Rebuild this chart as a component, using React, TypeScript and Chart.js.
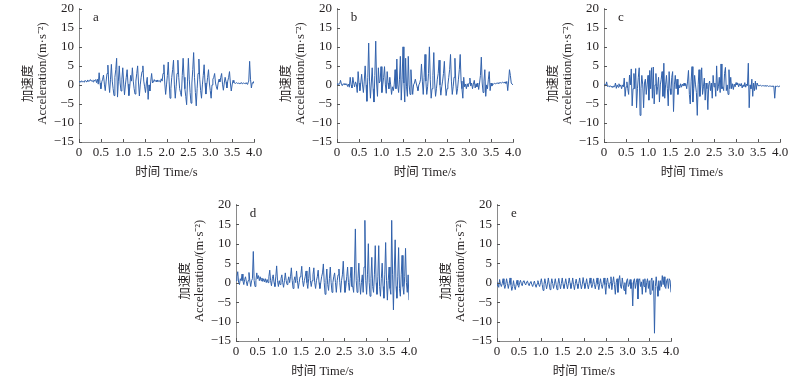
import React, { useEffect, useRef } from 'react';
import { Chart, registerables } from 'chart.js';

Chart.register(...registerables);

// ---- data ----
const DT = 0.02; // sampling step, s
const X_TICKS = [0, 0.5, 1, 1.5, 2, 2.5, 3, 3.5, 4];
const X_TICK_LABELS = ['0', '0.5', '1.0', '1.5', '2.0', '2.5', '3.0', '3.5', '4.0'];
const Y_TICKS = [-15, -10, -5, 0, 5, 10, 15, 20];
const Y_TICK_LABELS = ['−15', '−10', '−5', '0', '5', '10', '15', '20'];
const Y_TITLE_CN = '加速度';
const Y_TITLE_EN = 'Acceleration/(m·s⁻²)';
const X_TITLE = '时间 Time/s';
const PANEL_LETTERS = ['a', 'b', 'c', 'd', 'e'];

const ACC_A = [
  0.8, 1.0, 0.7, 1.1, 0.8,
  0.9, 0.7, 1.2, 0.9, 0.8,
  1.3, 0.9, 1.0, 1.4, 1.0,
  1.2, 0.8, 1.3, 1.1, 1.4,
  0.6, 1.5, 0.2, 3.2, 0.5,
  -1.0, 0.8, 1.5, 2.6, 0.2,
  -1.5, 1.0, 3.0, 5.2, 0.5,
  -2.0, 1.5, 5.4, 1.0, -1.0,
  -2.8, 2.0, 4.0, 7.0, -3.2,
  1.0, 5.0, 0.5, -1.6, 1.5,
  4.5, 0.5, -2.6, 0.0, 2.0,
  4.0, 0.2, -2.8, -0.5, 2.5,
  1.0, 4.5, 1.0, -1.0, -2.4,
  1.0, 3.0, 5.0, 0.5, -2.9,
  0.0, 2.0, 3.5, 5.0, 1.0,
  -0.5, -2.0, 0.5, 2.0, -3.8,
  0.0, -1.6, 1.0, 3.0, 0.5,
  0.8, 1.4, 0.9, 1.2, 0.8,
  1.3, 0.9, 1.1, 0.7, 1.6,
  1.0, 3.0, 5.3, 0.5, -2.5,
  0.0, 2.5, 6.0, 1.0, -3.5,
  -1.0, 2.0, 4.0, 6.5, 0.0,
  -3.5, -0.5, 3.0, 6.5, 2.0,
  -1.0, -2.0, -3.0, 2.5, 7.0,
  2.0, -1.0, -3.0, -5.2, 1.0,
  7.0, 1.5, -2.0, -4.8, 0.5,
  4.0, 8.5, 2.0, -2.0, -5.5,
  -1.0, 3.0, 6.8, 1.5, -1.5,
  -3.5, 0.0, 2.5, 5.3, 0.5,
  -2.4, 0.0, 2.0, 4.0, 0.5,
  -1.5, -3.5, 0.0, 1.5, 2.0,
  3.0, 0.5, -0.5, -1.2, 0.5,
  1.5, 0.8, 2.0, 3.0, 0.2,
  -1.4, 0.5, 2.0, 0.8, -0.8,
  1.0, 2.0, 3.5, 0.5, -1.6,
  0.0, 1.2, 0.6, 0.5, 0.4,
  0.6, 0.4, 0.5, 0.3, 0.5,
  0.4, 0.6, 0.3, 0.5, 0.4,
  0.3, 0.6, 0.2, 0.5, 1.0,
  6.2, 1.5, -0.8, 0.6, 0.4,
  1.0,
];

const ACC_B = [
  0.0, 0.4, 0.1, 0.3, 1.2,
  0.2, -0.2, 0.3, 0.1, 0.4,
  0.0, 0.3, -0.4, 0.2, -0.6,
  2.0, 0.0, -0.8, 2.0, 0.5,
  -0.5, 0.8, 0.2, -2.0, 3.5,
  0.5, -1.5, 0.5, 2.8, 0.0,
  -2.0, 1.0, 5.0, 0.0, -4.3,
  2.0, 11.0, 1.0, -3.5, 0.5,
  4.5, -1.0, -4.5, 2.5, 11.5,
  0.5, -3.0, 4.5, 0.5, 1.0,
  4.8, -2.0, 0.0, 2.0, 4.8,
  0.0, -2.2, 3.5, 0.5, -1.0,
  2.0, 0.0, -2.5, -0.5, -1.5,
  0.0, 4.0, -1.0, 6.8, 0.0,
  -2.0, 1.5, 7.5, -4.0, 1.5,
  10.0, 0.5, -4.5, 7.0, -0.5,
  -3.0, 7.5, 0.0, -2.5, 4.0,
  0.0, -2.5, 0.0, 0.5, 1.5,
  0.5, -0.5, -1.5, 0.0, 0.5,
  1.5, 5.5, 1.0, -2.5, 2.0,
  8.0, 1.0, -2.5, -0.5, 3.0,
  10.0, 1.5, -3.5, -1.0, 2.5,
  8.5, 0.5, -3.0, -1.0, 1.5,
  3.0, 6.5, 0.0, -2.7, -0.5,
  1.0, 3.0, 6.2, 0.5, -2.8,
  -1.0, 0.0, 2.0, 4.0, 8.0,
  1.0, -2.5, -0.5, 2.0, 7.0,
  0.5, -2.5, -1.0, 1.5, 4.0,
  8.0, 1.0, -1.0, -3.5, 2.0,
  -0.5, 0.2, -1.0, 0.3, -0.5,
  0.5, 1.8, -0.3, 0.5, -1.0,
  0.2, 1.2, -0.8, 0.3, -0.5,
  0.5, -1.2, 0.5, 2.5, 7.3,
  0.5, -2.0, 1.0, 4.0, -3.0,
  0.0, -1.0, 1.5, 3.5, -1.5,
  0.5, -0.3, 0.3, 0.2, 0.4,
  0.3, 0.4, 0.5, 0.4, 0.6,
  0.5, 0.6, 0.5, 0.7, 0.6,
  0.5, 0.8, 0.4, 0.9, -1.5,
  1.0, 4.0, 2.5, 0.5, 0.2,
  0.0,
];

const ACC_C = [
  -0.2, 0.2, -0.3, 0.8, -0.4,
  -0.3, -0.5, -0.2, -0.5, -0.3,
  -0.7, -0.3, -0.5, 0.5, -0.9,
  0.0, -0.6, 0.3, -0.4, 0.0,
  -1.0, 0.0, -0.5, 1.8, -3.0,
  -0.5, 0.8, -1.0, -2.5, 2.6,
  0.0, 4.2, -5.5, -1.0, 3.0,
  -1.0, 4.3, -6.0, -1.0, 2.0,
  4.5, -8.0, -1.0, 2.5, 0.0,
  -6.0, 0.5, 1.5, -2.5, 0.0,
  2.5, -4.0, 3.8, -1.0, 4.5,
  -3.5, 4.7, -5.0, 0.0, 3.0,
  -2.5, -0.5, 2.0, -4.5, 0.0,
  1.5, 3.5, -3.0, 5.7, -3.5,
  0.0, 2.5, -1.0, -5.5, 3.5,
  -1.0, -2.5, 2.0, 3.5, -7.0,
  0.0, 2.5, -1.0, 1.5, -2.5,
  0.0, -0.8, 0.3, -0.6, 0.2,
  -0.3, 0.5, -0.2, 0.2, -1.0,
  1.0, 3.8, -2.5, -5.0, 1.0,
  4.8, -4.5, -1.0, 2.5, 0.0,
  -2.0, -8.0, 0.0, 4.0, -3.0,
  0.0, 4.5, -2.5, -0.5, 1.8,
  -4.0, 0.5, -1.0, -6.5, 0.0,
  1.0, -1.5, 0.5, -3.5, 2.5,
  -0.5, 0.5, -3.0, 5.0, -1.5,
  -0.5, 2.0, -2.0, 5.5, -1.0,
  -0.5, -1.5, 3.0, 4.6, -1.5,
  0.0, -2.5, 4.0, -1.0, 2.0,
  -1.0, 0.3, -1.2, 0.2, -0.5,
  0.6, 0.0, 0.5, -0.5, 0.3,
  -0.3, 0.4, -0.8, 0.0, -0.4,
  0.6, -0.6, 0.2, -0.2, 5.7,
  -6.0, 0.0, -1.0, 1.5, -3.0,
  0.5, -1.5, 1.0, -1.2, 0.5,
  -0.2, -0.1, -0.2, -0.1, -0.3,
  -0.2, -0.2, -0.3, -0.2, -0.3,
  -0.3, -0.2, -0.4, -0.3, -0.3,
  -0.4, -0.3, -0.4, -0.3, -3.5,
  -0.3, -0.4, -0.3, -0.5, -0.3,
  -0.4,
];

const ACC_D = [
  0.5, 1.5, 2.8, 0.0, -0.5,
  1.0, 0.5, 2.2, 0.5, -0.5,
  0.8, 1.5, 0.2, -0.8, 0.5,
  2.6, 0.5, -1.0, 0.5, 1.0,
  8.0, 0.5, -1.0, 0.5, 2.5,
  1.0, 1.8, 0.5, 1.5, 0.5,
  1.2, 0.3, 1.0, 0.2, 1.0,
  0.0, 0.8, 0.0, 1.5, 3.2,
  0.5, -0.8, 1.0, 2.0, 0.0,
  -1.0, 1.5, 4.3, 0.5, -1.0,
  0.5, -0.5, 1.0, 2.0, 0.0,
  -1.2, 0.5, 2.5, 0.5, -0.5,
  0.5, 1.5, 0.0, 1.5, 3.8,
  0.5, -1.5, 0.5, 1.5, 0.0,
  3.0, 0.5, -1.5, 0.0, 1.5,
  2.0, 4.2, 0.5, -1.0, 0.5,
  1.5, 3.0, 0.0, -1.5, 1.0,
  4.0, 0.5, -1.0, 0.5, 2.0,
  3.8, 0.0, -1.5, 0.5, 1.5,
  3.2, 0.0, -1.5, 0.0, 1.5,
  2.5, 4.8, 0.0, -3.0, 0.5,
  3.5, -0.5, -2.0, 1.0, 4.0,
  0.0, -2.5, 0.0, 1.5, 2.5,
  0.0, -2.5, 0.5, 2.0, 3.5,
  0.0, -2.5, 0.5, 2.0, 5.5,
  0.5, -2.5, -1.0, 1.5, 4.0,
  0.0, -2.0, 1.0, 4.0, -1.0,
  -1.0, -2.5, 3.0, 13.8, 0.5,
  -2.5, 1.0, 5.0, 0.0, -3.0,
  0.0, 2.0, -2.5, 4.0, 16.0,
  0.5, -3.0, 2.0, 10.0, 0.0,
  -3.5, 1.0, 6.5, -1.0, -2.5,
  2.0, 9.5, 0.0, -3.0, 1.5,
  9.5, -1.0, -3.5, 1.0, 5.0,
  -1.0, -4.0, 2.0, 10.3, 0.5,
  -4.5, 0.5, 4.0, -1.5, -3.0,
  16.0, 2.0, -7.0, 3.0, 11.0,
  -1.0, -4.0, 1.5, 9.0, -1.5,
  -3.5, 2.0, 7.0, -1.0, -3.0,
  1.5, 8.8, 0.0, -2.5, 2.0,
  -4.5,
];

const ACC_E = [
  0.0, -0.8, -1.2, 0.8, -0.3,
  -1.0, -0.2, 1.0, -0.5, -1.5,
  -0.5, 1.0, -0.2, -1.5, -0.3,
  1.2, -0.5, -2.0, -1.0, 0.5,
  -1.0, -1.8, -0.5, 0.6, -0.6,
  -1.2, 0.0, 0.6, -0.3, -0.8,
  0.3, 0.5, -0.2, -0.6, 0.2,
  0.4, -0.3, -0.8, 0.0, 0.3,
  -0.5, -1.0, -0.2, 0.4, -0.6,
  -1.2, -0.3, 0.5, -0.5, -1.0,
  0.0, 1.0, -0.5, -2.0, -0.5,
  1.0, -0.3, -1.6, -0.4, 1.2,
  -0.3, -1.8, -0.5, 1.0, -0.2,
  -1.5, -0.3, 1.0, -0.5, -1.8,
  -0.4, 1.1, -0.3, -1.6, -0.2,
  1.2, -0.5, -1.5, -0.3, 1.0,
  -0.4, -1.6, -0.3, 1.2, -0.2,
  -1.5, -0.4, 1.2, -0.5, -1.8,
  -0.3, 0.9, -0.4, -1.5, -0.2,
  1.2, -0.3, -1.6, -0.5, 1.3,
  -0.2, -1.5, -0.4, 1.0, -0.5,
  -1.6, -0.3, 1.2, -0.2, -1.3,
  -0.4, 1.0, -0.5, -1.6, -0.2,
  1.2, -0.4, -1.8, -0.3, 1.0,
  -0.5, -1.5, -0.2, 1.2, -0.5,
  -3.0, 0.0, 1.2, -0.5, -1.5,
  0.0, 1.5, -1.8, 0.0, 1.5,
  -0.5, -3.0, 0.0, 1.0, -2.5,
  0.5, 1.8, -1.0, -1.5, 1.2,
  -0.5, -2.0, 0.0, -3.0, 0.5,
  1.0, -1.0, -0.5, 0.8, -1.5,
  0.0, -6.0, 0.5, 1.0, -1.5,
  0.0, 1.0, -4.2, 0.5, 1.0,
  -1.0, 0.2, -3.0, 0.8, -1.0,
  1.0, -2.5, 0.0, 1.0, -1.5,
  0.5, -3.0, 0.5, 1.2, -2.0,
  0.5, -13.0, -1.0, 1.5, -1.0,
  -3.5, 0.5, -2.0, 0.5, -1.0,
  1.8, -0.5, 1.5, -1.0, -1.5,
  0.5, 1.0, -1.5, 1.0, 0.5,
  -2.5,
];

const SERIES = [ACC_A, ACC_B, ACC_C, ACC_D, ACC_E];

// ---- layout & style (plot-area boxes in page pixels) ----
const PANEL_BOXES = [
  { left: 79, top: 7.5, w: 175, h: 134 },
  { left: 337, top: 7.5, w: 176, h: 134 },
  { left: 604, top: 7.5, w: 176, h: 134 },
  { left: 236, top: 204, w: 173, h: 136.5 },
  { left: 497, top: 204, w: 174, h: 136.5 },
];
const LINE_COLOR = 'rgb(50, 98, 172)';
const AXIS_COLOR = '#8a8a8a';
const TEXT_COLOR = '#231f20';
const FONT_FAMILY = '"Liberation Serif", "Noto Sans CJK SC", serif';
const PAD_L = 80;
const PAD_T = 12;
const PAD_R = 20;
const PAD_B = 45;

function makeDecor(letter: string) {
  return {
    id: 'decor',
    afterDraw(chart: any) {
      const ctx = chart.ctx as CanvasRenderingContext2D;
      const { left, right, top, bottom } = chart.chartArea;
      const xs = chart.scales.x;
      const ys = chart.scales.y;
      ctx.save();
      // inward tick marks
      ctx.strokeStyle = '#555';
      ctx.lineWidth = 1;
      ctx.beginPath();
      X_TICKS.forEach((v) => {
        const px = Math.round(xs.getPixelForValue(v)) + 0.5;
        ctx.moveTo(px, bottom);
        ctx.lineTo(px, bottom - 3);
      });
      Y_TICKS.forEach((v) => {
        const py = Math.round(ys.getPixelForValue(v)) + 0.5;
        ctx.moveTo(left, py);
        ctx.lineTo(left + 3, py);
      });
      ctx.stroke();

      ctx.fillStyle = TEXT_COLOR;
      ctx.font = `12.5px ${FONT_FAMILY}`;
      ctx.textAlign = 'center';
      ctx.textBaseline = 'middle';
      // x title
      ctx.fillText(X_TITLE, (left + right) / 2, bottom + 31);
      // y titles (two lines, rotated)
      const cy = (top + bottom) / 2;
      ctx.save();
      ctx.translate(left - 36, cy - 2);
      ctx.rotate(-Math.PI / 2);
      ctx.fillText(Y_TITLE_EN, 0, 0);
      ctx.restore();
      ctx.save();
      ctx.translate(left - 50, cy + 8);
      ctx.rotate(-Math.PI / 2);
      ctx.fillText(Y_TITLE_CN, 0, 0);
      ctx.restore();
      // panel letter
      ctx.font = `13px ${FONT_FAMILY}`;
      ctx.fillText(letter, left + 17, top + 9);
      ctx.restore();
    },
  };
}

function Panel({ values, letter, box }: { values: number[]; letter: string; box: any }) {
  const ref = useRef<HTMLCanvasElement>(null);
  const cw = Math.round(box.w + PAD_L + PAD_R);
  const ch = Math.round(box.h + PAD_T + PAD_B);

  useEffect(() => {
    if (!ref.current) return;
    const points = values.map((v, i) => ({ x: i * DT, y: v }));
    const tickFont = { family: FONT_FAMILY, size: 13 };
    const chart = new Chart(ref.current, {
      type: 'line',
      data: {
        datasets: [
          {
            data: points,
            borderColor: LINE_COLOR,
            borderWidth: 1,
            pointRadius: 0,
            tension: 0,
            fill: false,
          },
        ],
      },
      options: {
        animation: false,
        responsive: false,
        devicePixelRatio: 1,
        layout: { padding: { left: 0, top: PAD_T, right: PAD_R, bottom: 0 } },
        plugins: { legend: { display: false }, tooltip: { enabled: false } },
        scales: {
          x: {
            type: 'linear',
            min: 0,
            max: 4,
            afterFit: (s: any) => {
              s.height = PAD_B;
            },
            afterBuildTicks: (s: any) => {
              s.ticks = X_TICKS.map((v) => ({ value: v }));
            },
            ticks: {
              callback: (_v: any, i: number) => X_TICK_LABELS[i],
              padding: 3,
              font: tickFont,
              color: TEXT_COLOR,
              maxRotation: 0,
              autoSkip: false,
            },
            grid: { display: false, drawTicks: false },
            border: { display: true, color: AXIS_COLOR, width: 1 },
          },
          y: {
            type: 'linear',
            min: -15,
            max: 20,
            afterFit: (s: any) => {
              s.width = PAD_L;
            },
            afterBuildTicks: (s: any) => {
              s.ticks = Y_TICKS.map((v) => ({ value: v }));
            },
            ticks: {
              callback: (_v: any, i: number) => Y_TICK_LABELS[i],
              padding: 5,
              font: tickFont,
              color: TEXT_COLOR,
              autoSkip: false,
            },
            grid: { display: false, drawTicks: false },
            border: { display: true, color: AXIS_COLOR, width: 1 },
          },
        },
      } as any,
      plugins: [makeDecor(letter)],
    });
    return () => chart.destroy();
  }, []);

  return (
    <canvas
      ref={ref}
      width={cw}
      height={ch}
      style={{
        position: 'absolute',
        left: Math.round(box.left - PAD_L),
        top: Math.round(box.top - PAD_T),
        width: cw,
        height: ch,
      }}
    />
  );
}

export default function App() {
  return (
    <div
      style={{
        position: 'absolute',
        left: 0,
        top: 0,
        width: 800,
        height: 379,
        background: '#ffffff',
        overflow: 'hidden',
      }}
    >
      {SERIES.map((vals, i) => (
        <Panel key={i} values={vals} letter={PANEL_LETTERS[i]} box={PANEL_BOXES[i]} />
      ))}
    </div>
  );
}
